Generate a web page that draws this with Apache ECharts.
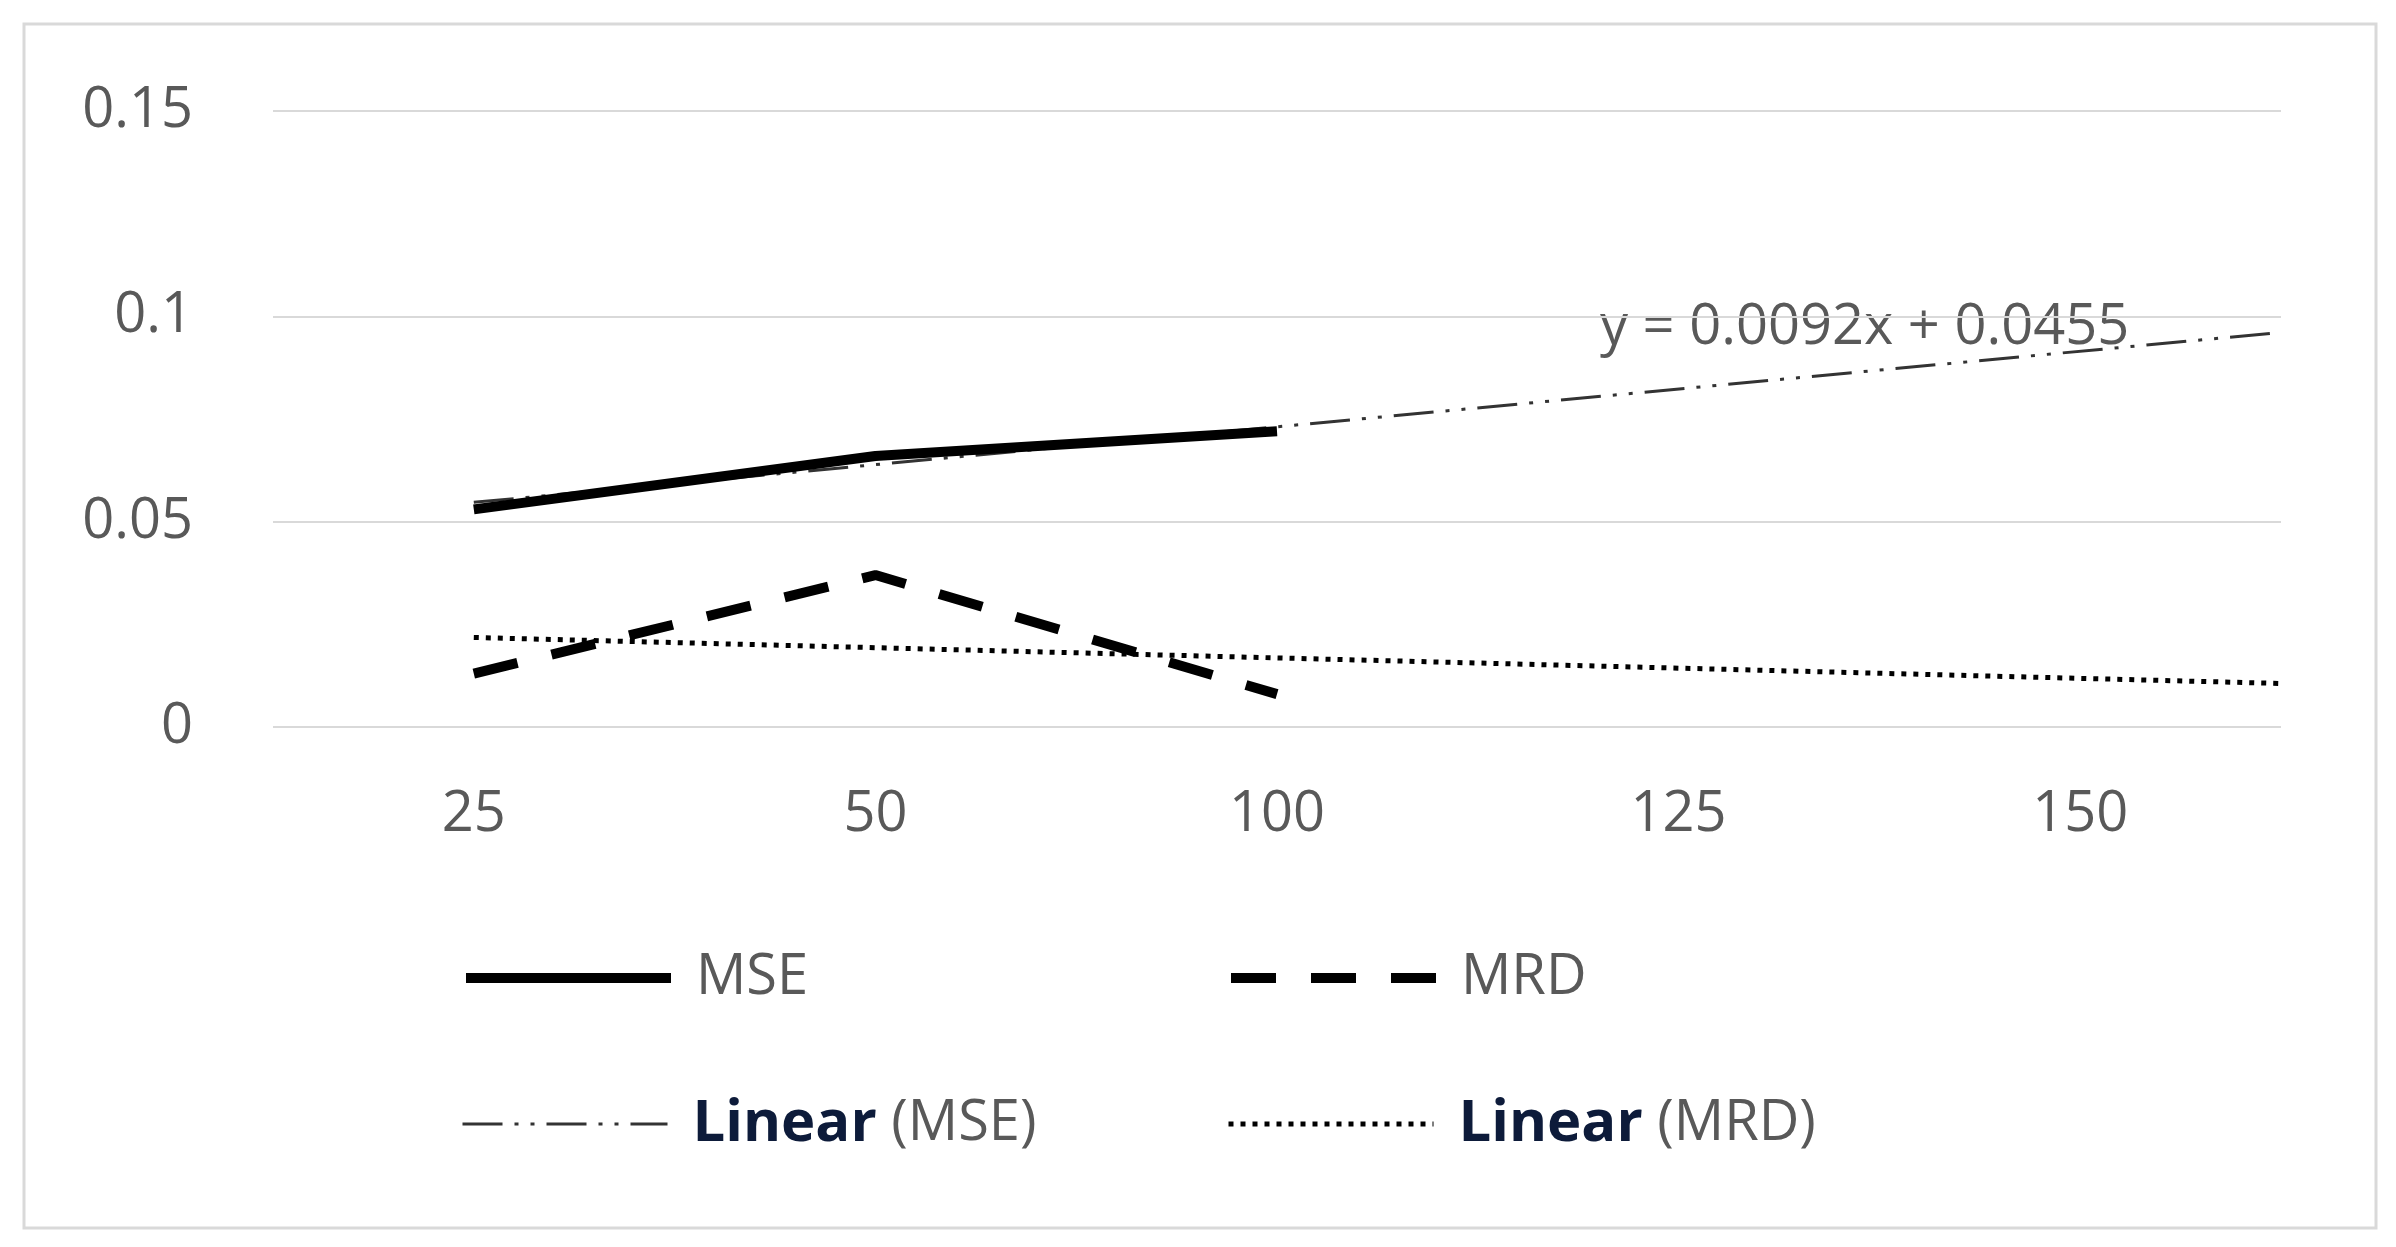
<!DOCTYPE html><html><head><meta charset="utf-8">
<script src="https://cdn.jsdelivr.net/npm/echarts@6/dist/echarts.min.js"></script>
<style>html,body{margin:0;background:#fff}#c{width:2396px;height:1247px}</style></head><body><div id="c"></div>
<script>
const xLabels=['25','50','100','125','150'];
const xTicks=[1,2,3,4,5];
const xPos=[1,2,3];
const mse=[0.053,0.066,0.072];
const mrd=[0.013,0.037,0.008];
const trendX=[1,5.5];
const trendMse=[0.0547,0.0961];
const trendMrd=[0.0218,0.0106];
const equation='y = 0.0092x + 0.0455';
const pairs=(xs,ys)=>xs.map((x,i)=>[x,ys[i]]);
const fnt='"Open Sans", "Liberation Sans", sans-serif';
const gray='#595959';
const c=echarts.init(document.getElementById('c'));
const legendBase={orient:'horizontal',itemWidth:205,itemHeight:20,itemGap:0,
 itemStyle:{opacity:0},
 textStyle:{fontSize:56,color:gray,fontFamily:fnt,padding:[0,0,0,20],
  rich:{b:{fontSize:58,fontWeight:'bold',color:'#0d1b3a',fontFamily:fnt},g:{fontSize:56,color:gray,fontFamily:fnt}}},
 formatter:n=>n.startsWith('Linear')?'{b|Linear} {g|'+n.slice(7)+'}':n};
const lg=(name,left,top,ls)=>Object.assign({},legendBase,{data:[name],left:left,top:top,lineStyle:ls});
c.setOption({
 animation:false,
 graphic:[{type:'rect',shape:{x:24,y:24,width:2352,height:1204},style:{fill:'none',stroke:'#d9d9d9',lineWidth:3}},
  {type:'text',left:1600,top:300,style:{text:equation,fontSize:56,fill:gray,fontFamily:fnt}}],
 grid:{left:273,right:115,top:111,bottom:520},
 xAxis:{type:'value',min:0.5,max:5.5,axisLine:{show:false},axisTick:{show:false},splitLine:{show:false},
  axisLabel:{customValues:xTicks,fontSize:56,color:gray,fontFamily:fnt,margin:60,
   formatter:v=>xLabels[Math.round(v)-1]||''}},
 yAxis:{type:'value',min:0,max:0.15,interval:0.05,axisLine:{show:false},axisTick:{show:false},
  splitLine:{lineStyle:{color:'#d9d9d9',width:2}},
  axisLabel:{fontSize:56,color:gray,fontFamily:fnt,margin:80,formatter:v=>v===0?'0':String(+v.toFixed(2))}},
 legend:[
  lg('MSE',456,945,{color:'#000',width:10}),
  lg('MRD',1221,945,{color:'#000',width:10,type:[45,35]}),
  lg('Linear (MSE)',456,1090,{color:'#333',width:3,type:[40,12,4,12,4,12]}),
  lg('Linear (MRD)',1221,1090,{color:'#000',width:5,type:[5,7]})],
 series:[
  {name:'Linear (MRD)',type:'line',symbol:'none',data:pairs(trendX,trendMrd),lineStyle:{color:'#000',width:5,type:[5,7]},z:1},
  {name:'Linear (MSE)',type:'line',symbol:'none',data:pairs(trendX,trendMse),lineStyle:{color:'#333',width:3,type:[40,12,4,12,4,12]},z:1},
  {name:'MSE',type:'line',symbol:'none',data:pairs(xPos,mse),lineStyle:{color:'#000',width:10},z:3},
  {name:'MRD',type:'line',symbol:'none',data:pairs(xPos,mrd),lineStyle:{color:'#000',width:10,type:[45,35]},z:3}]
});
</script></body></html>
